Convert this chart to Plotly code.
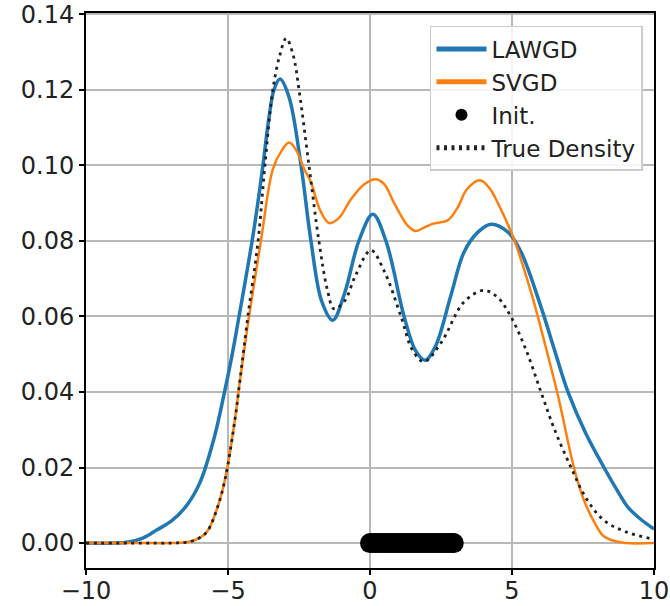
import plotly.graph_objects as go

# ---- data ----
true_x = [-10, -8, -7, -6.5, -6.1, -5.74, -5.39, -5.1, -4.75, -4.58, -4.3, -3.94, -3.7,
          -3.42, -3.18, -2.95, -2.7, -2.5, -2.15, -1.8, -1.5, -1.27, -0.9, -0.5, 0.03, 0.5, 1.09, 1.5,
          1.9, 2.5, 3.31, 4.01, 4.5, 4.97, 5.5, 6.02, 6.5, 7.08, 7.6, 8.24, 9.0, 10]
true_y = [0, 0, 0, 0.0002, 0.001, 0.003, 0.009, 0.017, 0.033, 0.043, 0.060, 0.080, 0.100,
          0.120, 0.129, 0.1336, 0.129, 0.120, 0.100, 0.080, 0.067, 0.062, 0.064, 0.071, 0.0775, 0.072, 0.060, 0.051,
          0.048, 0.053, 0.0638, 0.0669, 0.065, 0.0598, 0.051, 0.040, 0.030, 0.020, 0.012, 0.006, 0.003, 0.001]

lawgd_x = [-10, -9, -8.5, -8, -7.5, -7, -6.5, -6, -5.5, -5.15, -4.85, -4.6, -4.4, -4.15, -3.95,
           -3.77, -3.55, -3.38, -3.17, -2.85, -2.43, -2.08, -1.7, -1.31, -0.9, -0.39, 0.1, 0.56,
           1.2, 1.6, 1.94, 2.3, 2.85, 3.31, 3.8, 4.26, 4.86, 5.32, 6.02, 6.5, 6.97, 7.6, 8.24,
           8.7, 9.08, 9.5, 10]
lawgd_y = [0, 0, 0.0003, 0.0013, 0.0035, 0.0058, 0.0095, 0.0158, 0.0275, 0.039, 0.050, 0.0605, 0.069, 0.080, 0.090,
           0.100, 0.113, 0.120, 0.1228, 0.118, 0.100, 0.080, 0.064, 0.059, 0.066, 0.080, 0.087, 0.080,
           0.060, 0.051, 0.0484, 0.052, 0.0656, 0.077, 0.0823, 0.0844, 0.0823, 0.077, 0.0625, 0.051, 0.040, 0.029, 0.020,
           0.014, 0.0095, 0.0065, 0.0037]

svgd_x = [-10, -8, -7, -6.5, -6.1, -5.74, -5.39, -5.1, -4.75, -4.58, -4.26, -3.84, -3.42,
          -3.1, -2.85, -2.6, -2.32, -2.08, -1.75, -1.44, -1.1, -0.67, -0.2, 0.21, 0.5, 0.85, 1.33,
          1.6, 1.9, 2.2, 2.75, 3.1, 3.4, 3.87, 4.2, 4.5, 5.07, 5.67, 6.15, 6.62, 7.18, 7.5, 7.89,
          8.2, 8.49, 9, 10]
svgd_y = [0, 0, 0, 0.0002, 0.001, 0.003, 0.009, 0.017, 0.033, 0.043, 0.060, 0.080, 0.099,
          0.104, 0.106, 0.104, 0.099, 0.0955, 0.088, 0.0847, 0.086, 0.091, 0.095, 0.0963, 0.095, 0.090, 0.084,
          0.0826, 0.0835, 0.0845, 0.0855, 0.089, 0.0935, 0.096, 0.094, 0.090, 0.0804, 0.0664, 0.053, 0.039, 0.020, 0.012, 0.0056,
          0.002, 0.0008, 0, 0]

init_x = [0.0, 0.1, 0.2, 0.3, 0.4, 0.5, 0.6, 0.7, 0.8, 0.9, 1.0, 1.1, 1.2, 1.3, 1.4, 1.5,
          1.6, 1.7, 1.8, 1.9, 2.0, 2.1, 2.2, 2.3, 2.4, 2.5, 2.6, 2.7, 2.8, 2.9, 2.95]
init_y = [0.0] * len(init_x)

x_ticks = [-10, -5, 0, 5, 10]
x_tick_labels = ["\u221210", "\u22125", "0", "5", "10"]
y_ticks = [0.00, 0.02, 0.04, 0.06, 0.08, 0.10, 0.12, 0.14]
y_tick_labels = ["0.00", "0.02", "0.04", "0.06", "0.08", "0.10", "0.12", "0.14"]

FONT = "DejaVu Sans"

fig = go.Figure()
fig.add_trace(go.Scatter(x=lawgd_x, y=lawgd_y, mode="lines", name="LAWGD", legendgroup="a",
                         line=dict(color="#1f77b4", width=3.5, shape="spline", smoothing=1.0)))
fig.add_trace(go.Scatter(x=svgd_x, y=svgd_y, mode="lines", name="SVGD", legendgroup="b",
                         line=dict(color="#ff7f0e", width=2.5, shape="spline", smoothing=1.0)))
fig.add_trace(go.Scatter(x=init_x, y=init_y, mode="markers", name="Init.", legendgroup="c",
                         marker=dict(color="black", size=20)))
fig.add_trace(go.Scatter(x=true_x, y=true_y, mode="lines", name="True Density", legendgroup="d",
                         line=dict(color="#222222", width=2.8, dash="3px,4.5px", shape="spline", smoothing=1.0)))

axis_common = dict(showline=True, linecolor="black", linewidth=2, mirror=True,
                   showgrid=True, gridcolor="#b8b8b8", gridwidth=1.5,
                   ticks="outside", ticklen=5, tickwidth=1.5, tickcolor="black",
                   zeroline=False, automargin=False, ticklabeloverflow="allow",
                   tickfont=dict(family=FONT, size=24, color="#222222"))

fig.update_xaxes(range=[-10, 10], tickvals=x_ticks, ticktext=x_tick_labels,
                 ticklabelstandoff=-5, **axis_common)
fig.update_yaxes(range=[-0.0066, 0.1403], tickvals=y_ticks, ticktext=y_tick_labels, **axis_common)

fig.update_layout(
    width=670, height=606,
    margin=dict(l=86, r=16, t=13, b=38),
    plot_bgcolor="white", paper_bgcolor="white",
    font=dict(family=FONT),
    legend=dict(x=0.9806, y=0.9766, xanchor="right", yanchor="top",
                bgcolor="rgba(255,255,255,0.85)", bordercolor="#cccccc", borderwidth=1.5,
                font=dict(family=FONT, size=23, color="#222222"),
                tracegroupgap=0, itemsizing="constant", itemwidth=50),
)

fig.write_html("out.html", config={"displayModeBar": False},
               post_script="document.body.style.margin='0';document.body.style.overflow='hidden';")
